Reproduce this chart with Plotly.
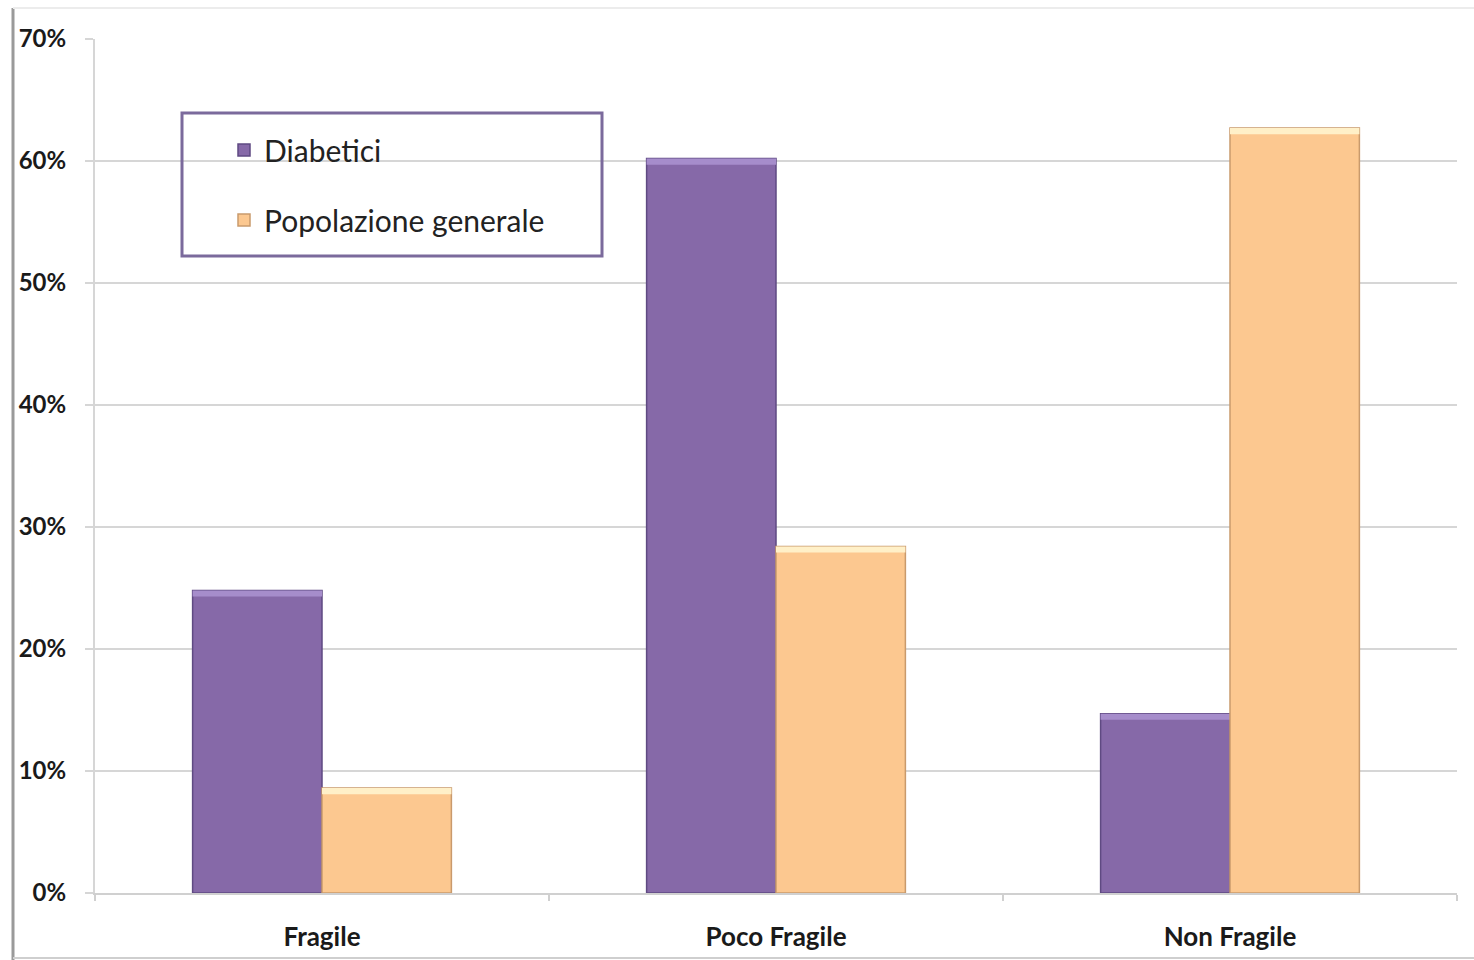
import plotly.graph_objects as go

# Categories and series (share of each group, %)
categories = ["Fragile", "Poco Fragile", "Non Fragile"]
diabetici = [24.8, 60.2, 14.7]
popolazione = [8.6, 28.4, 62.7]
y_ticks = [0, 10, 20, 30, 40, 50, 60, 70]

BEVEL = 0.5  # height of the light top band on each bar, in %

purple, purple_edge, purple_top = "#8669a8", "#5f4a82", "#a68dcb"
orange, orange_edge, orange_top = "#fcc890", "#c99a6c", "#fff0c8"

fig = go.Figure()

fig.add_trace(go.Bar(
    x=categories, y=[v / 100 for v in diabetici], name="Diabetici",
    offsetgroup="d", legendgroup="d",
    marker=dict(color=purple, line=dict(color=purple_edge, width=1.5)),
))
fig.add_trace(go.Bar(
    x=categories, y=[BEVEL / 100] * len(categories),
    base=[(v - BEVEL) / 100 for v in diabetici],
    offsetgroup="d", legendgroup="d", showlegend=False, hoverinfo="skip",
    marker=dict(color=purple_top, line=dict(width=0)),
))
fig.add_trace(go.Bar(
    x=categories, y=[v / 100 for v in popolazione], name="Popolazione generale",
    offsetgroup="p", legendgroup="p",
    marker=dict(color=orange, line=dict(color=orange_edge, width=1.5)),
))
fig.add_trace(go.Bar(
    x=categories, y=[BEVEL / 100] * len(categories),
    base=[(v - BEVEL) / 100 for v in popolazione],
    offsetgroup="p", legendgroup="p", showlegend=False, hoverinfo="skip",
    marker=dict(color=orange_top, line=dict(width=0)),
))

W, H = 1474, 960
ml, mr, mt, mb = 95, 17, 39, 67
pw, ph = W - ml - mr, H - mt - mb


def px_x(x):
    return (x - ml) / pw


def px_y(y):
    return 1 - (y - mt) / ph


fig.update_layout(
    width=W, height=H,
    margin=dict(l=ml, r=mr, t=mt, b=mb, autoexpand=False),
    paper_bgcolor="white", plot_bgcolor="white",
    barmode="group", bargap=0.43, bargroupgap=0,
    font=dict(family="Lato", color="#1a1a1a"),
    showlegend=True,
    legend=dict(
        x=px_x(224), y=px_y(124), xanchor="left", yanchor="top",
        bgcolor="rgba(0,0,0,0)", borderwidth=0,
        font=dict(family="Lato", size=30, color="#222222"),
        traceorder="grouped", tracegroupgap=28,
    ),
    xaxis=dict(
        automargin=False,
        showline=True, linecolor="#d0d0d0", linewidth=2,
        ticks="outside", tickson="boundaries", ticklen=6, tickcolor="#d0d0d0",
        tickwidth=2, showgrid=False,
        tickfont=dict(family="Lato", size=26, color="#1a1a1a", weight="bold"),
        ticklabelstandoff=20,
    ),
    yaxis=dict(
        automargin=False,
        range=[0, 0.7], tickvals=[t / 100 for t in y_ticks], tickformat=".0%",
        showgrid=True, gridcolor="#d6d6d6", gridwidth=2,
        showline=True, linecolor="#d6d6d6", linewidth=2,
        ticks="outside", ticklen=8, tickcolor="#d6d6d6", tickwidth=2,
        zeroline=False,
        tickfont=dict(family="Lato", size=24, color="#1a1a1a", weight="bold"),
        ticklabelstandoff=14,
    ),
    shapes=[
        # legend frame
        dict(type="rect", xref="paper", yref="paper",
             x0=px_x(182), x1=px_x(602), y0=px_y(256), y1=px_y(113),
             line=dict(color="#7b6a9c", width=3), layer="above"),
        # outer chart frame
        dict(type="line", xref="paper", yref="paper",
             x0=px_x(13), x1=px_x(13), y0=px_y(8), y1=px_y(960),
             line=dict(color="#9a9a9a", width=3)),
        dict(type="line", xref="paper", yref="paper",
             x0=px_x(13), x1=px_x(1474), y0=px_y(8), y1=px_y(8),
             line=dict(color="#ececec", width=2)),
        dict(type="line", xref="paper", yref="paper",
             x0=px_x(13), x1=px_x(1474), y0=px_y(958), y1=px_y(958),
             line=dict(color="#cfcfcf", width=2)),
    ],
)

fig.write_html("out.html")
